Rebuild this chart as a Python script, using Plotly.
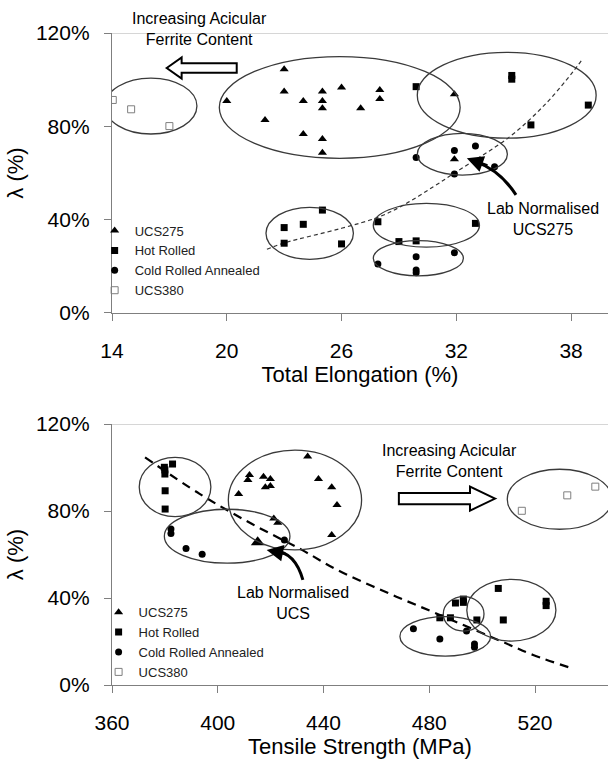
import plotly.graph_objects as go

# ---------------- data: top panel (Total Elongation %) ----------------
ucs275_el = [23.0, 20.0, 22.0, 23.0, 24.0, 24.0, 25.0, 25.0, 25.0, 25.0, 25.0, 26.0, 27.0, 28.0, 28.0, 31.9, 31.9]
ucs275_el_lam = [104.5, 90.9, 82.7, 94.9, 90.9, 76.7, 94.9, 90.9, 87.7, 74.6, 68.7, 96.6, 87.7, 95.6, 91.7, 93.7, 65.9]
hr_el = [29.9, 34.9, 34.9, 38.9, 35.9, 23.0, 24.0, 25.0, 23.0, 26.0, 27.9, 29.0, 29.9, 33.0]
hr_el_lam = [97.0, 100.2, 101.8, 89.1, 80.6, 36.6, 38.0, 44.1, 29.9, 29.6, 39.1, 30.6, 30.9, 38.4]
cra_el = [31.9, 33.0, 29.9, 34.0, 31.9, 27.9, 29.9, 29.9, 29.9, 31.9]
cra_el_lam = [69.6, 71.6, 66.6, 62.7, 59.6, 21.0, 24.1, 18.4, 17.2, 25.8]
ucs380_el = [14.04, 15.0, 17.0]
ucs380_el_lam = [91.3, 87.3, 80.1]
trend_el_x = [22.1, 23.0, 26.0, 28.0, 29.4, 30.8, 32.0, 34.8, 36.7, 38.1, 38.6]
trend_el_y = [27.3, 30.0, 36.3, 41.3, 47.0, 54.1, 60.5, 75.6, 89.9, 103.4, 108.9]

# ---------------- data: bottom panel (Tensile Strength MPa) ----------------
ucs275_ts = [407.9, 411.4, 412.0, 417.3, 418.0, 419.9, 419.9, 421.2, 422.7, 434.0, 438.1, 443.1, 445.1, 443.1]
ucs275_ts_lam = [87.8, 94.3, 96.6, 95.8, 90.9, 94.7, 91.5, 76.6, 74.6, 105.0, 94.7, 90.9, 82.8, 69.0]
lab_ts = [415.1]
lab_ts_lam = [65.6]
hr_ts = [379.8, 382.9, 380.0, 380.0, 380.1, 380.1, 484.0, 488.0, 489.9, 492.9, 492.9, 498.0, 506.1, 508.0, 524.2, 524.2]
hr_ts_lam = [100.1, 101.6, 98.9, 97.0, 89.3, 80.9, 30.9, 30.9, 37.7, 39.5, 38.0, 29.9, 44.4, 29.9, 38.5, 36.5]
cra_ts = [382.3, 382.3, 388.0, 394.1, 425.2, 474.0, 484.0, 494.1, 497.1, 497.1]
cra_ts_lam = [71.7, 69.7, 62.8, 60.1, 66.7, 25.9, 21.1, 24.8, 18.9, 17.3]
ucs380_ts = [515.0, 532.2, 542.8]
ucs380_ts_lam = [80.1, 87.2, 91.2]
trend_ts_x = [372.5, 393.0, 413.0, 432.0, 445.0, 464.0, 484.0, 506.7, 519.3, 534.7]
trend_ts_y = [104.7, 88.0, 74.0, 62.0, 53.0, 42.5, 32.2, 20.4, 13.8, 7.4]

y_ticks = [0, 40, 80, 120]
y_tick_labels = ["0%", "40%", "80%", "120%"]
el_ticks = [14, 20, 26, 32, 38]
ts_ticks = [360, 400, 440, 480, 520]

FONT = "Liberation Sans, Arial, sans-serif"
AX = "#7f7f7f"
BLK = "#000000"

fig = go.Figure()

def add_series(xa, ya, legend, x, y, name, symbol, size, color, line=None, showlegend=True):
    fig.add_trace(go.Scatter(
        x=x, y=y, mode="markers", name=name, xaxis=xa, yaxis=ya, legend=legend,
        showlegend=showlegend,
        marker=dict(symbol=symbol, size=size, color=color,
                    line=line if line else dict(width=0)),
    ))

# trend lines
fig.add_trace(go.Scatter(x=trend_el_x, y=trend_el_y, mode="lines", xaxis="x", yaxis="y",
                         line=dict(color="#333333", width=1.2, dash="4px,3px", shape="spline", smoothing=1.0),
                         showlegend=False, hoverinfo="skip"))
fig.add_trace(go.Scatter(x=trend_ts_x, y=trend_ts_y, mode="lines", xaxis="x2", yaxis="y2",
                         line=dict(color=BLK, width=2.2, dash="9px,6px", shape="spline", smoothing=1.0),
                         showlegend=False, hoverinfo="skip"))

# top panel series
add_series("x", "y", "legend", ucs275_el, ucs275_el_lam, "UCS275", "triangle-up", 8, BLK)
add_series("x", "y", "legend", hr_el, hr_el_lam, "Hot Rolled", "square", 7, BLK)
add_series("x", "y", "legend", cra_el, cra_el_lam, "Cold Rolled Annealed", "circle", 7, BLK)
add_series("x", "y", "legend", ucs380_el, ucs380_el_lam, "UCS380", "square-open", 7, "#7f7f7f",
           line=dict(width=1, color="#7f7f7f"))

# bottom panel series
add_series("x2", "y2", "legend2", ucs275_ts, ucs275_ts_lam, "UCS275", "triangle-up", 8, BLK)
add_series("x2", "y2", "legend2", hr_ts, hr_ts_lam, "Hot Rolled", "square", 7, BLK)
add_series("x2", "y2", "legend2", cra_ts, cra_ts_lam, "Cold Rolled Annealed", "circle", 7, BLK)
add_series("x2", "y2", "legend2", ucs380_ts, ucs380_ts_lam, "UCS380", "square-open", 7, "#7f7f7f",
           line=dict(width=1, color="#7f7f7f"))
add_series("x2", "y2", "legend2", lab_ts, lab_ts_lam, "Lab Normalised UCS", "triangle-up", 12, BLK,
           showlegend=False)

shapes = []
ELC = "#3a3a3a"
top_ell = [(13.63, 18.44, 76.7, 100.7), (19.61, 32.20, 66.3, 109.9), (29.96, 39.31, 74.9, 111.7),
           (29.96, 34.67, 59.1, 77.0), (22.05, 26.62, 23.0, 45.3), (27.66, 33.21, 28.2, 47.0),
           (27.66, 32.37, 15.9, 31.0)]
bot_ell = [(370.3, 397.4, 77.4, 104.7), (379.8, 427.3, 56.0, 80.8), (404.0, 454.4, 62.1, 108.0),
           (468.9, 503.2, 13.3, 31.4), (485.3, 500.7, 24.8, 40.6), (494.2, 527.9, 20.2, 48.6),
           (509.5, 549.1, 71.6, 99.2)]
for (x0, x1, y0, y1) in top_ell:
    shapes.append(dict(type="circle", xref="x", yref="y", x0=x0, x1=x1, y0=y0, y1=y1,
                       line=dict(color=ELC, width=1.3)))
for (x0, x1, y0, y1) in bot_ell:
    shapes.append(dict(type="circle", xref="x2", yref="y2", x0=x0, x1=x1, y0=y0, y1=y1,
                       line=dict(color=ELC, width=1.3)))

# top border lines at 120%
shapes.append(dict(type="line", xref="x domain", yref="y", x0=0, x1=1, y0=120, y1=120,
                   line=dict(color="#c8c8c8", width=1.5)))
shapes.append(dict(type="line", xref="x2 domain", yref="y2", x0=0, x1=1, y0=120, y1=120,
                   line=dict(color="#c8c8c8", width=1.5)))

# hollow arrows
shapes.append(dict(type="path", xref="x", yref="y",
                   path="M 16.86,105 L 17.64,109.5 L 17.64,107 L 20.52,107 L 20.52,103 L 17.64,103 L 17.64,100.5 Z",
                   line=dict(color=BLK, width=2), fillcolor="white"))
shapes.append(dict(type="path", xref="x2", yref="y2",
                   path="M 504.9,85.7 L 495.4,91.2 L 495.4,88.3 L 468.5,88.3 L 468.5,83.1 L 495.4,83.1 L 495.4,80.2 Z",
                   line=dict(color=BLK, width=2), fillcolor="white"))

# curved black arrows (bodies)
shapes.append(dict(type="path", xref="x", yref="y",
                   path="M 35.12,50.6 Q 34.29,61.3 33.0,64.9",
                   line=dict(color=BLK, width=3)))
shapes.append(dict(type="path", xref="x2", yref="y2",
                   path="M 432.2,48.3 Q 429.2,61.1 421.5,61.6",
                   line=dict(color=BLK, width=3)))

annotations = [
    dict(x=18.6, y=1.09, xref="x", yref="y domain", text="Increasing Acicular<br>Ferrite Content",
         showarrow=False, font=dict(size=16, color=BLK, family=FONT)),
    dict(x=487.8, y=103.1, xref="x2", yref="y2", text="Increasing Acicular<br>Ferrite Content",
         showarrow=False, font=dict(size=16, color=BLK, family=FONT)),
    dict(x=36.54, y=40.3, xref="x", yref="y", text="Lab Normalised<br>UCS275",
         showarrow=False, font=dict(size=16, color=BLK, family=FONT)),
    dict(x=428.5, y=37.8, xref="x2", yref="y2", text="Lab Normalised<br>UCS",
         showarrow=False, font=dict(size=16, color=BLK, family=FONT)),
    # arrow heads
    dict(x=32.55, y=66.3, xref="x", yref="y", text="", showarrow=True, ax=22, ay=8,
         arrowhead=2, arrowsize=1.1, arrowwidth=3, arrowcolor=BLK, standoff=0),
    dict(x=418.5, y=62.1, xref="x2", yref="y2", text="", showarrow=True, ax=20, ay=4,
         arrowhead=2, arrowsize=1.1, arrowwidth=3, arrowcolor=BLK, standoff=0),
]

tickfont = dict(size=21, color=BLK, family=FONT)
titlefont = dict(size=22, color=BLK, family=FONT)

def xaxis_cfg(rng, ticks, title, anchor):
    return dict(range=rng, tickvals=ticks, showgrid=False, zeroline=False, showline=True,
                linecolor=AX, linewidth=1.3, ticks="outside", ticklen=7, tickcolor=AX, tickwidth=1.3,
                tickfont=tickfont, title=dict(text=title, font=titlefont, standoff=4), anchor=anchor,
                ticklabelstandoff=12)

def yaxis_cfg(domain, anchor):
    return dict(range=[0, 120], tickvals=y_ticks, ticktext=y_tick_labels, domain=domain, showgrid=False,
                zeroline=False, showline=True, linecolor=AX, linewidth=1.3, ticks="outside",
                ticklen=7, tickcolor=AX, tickwidth=1.3, tickfont=tickfont,
                title=dict(text="λ (%)", font=titlefont, standoff=6), anchor=anchor,
                ticklabelstandoff=10)

fig.update_layout(
    width=608, height=763,
    margin=dict(l=112, r=0, t=33, b=78),
    paper_bgcolor="white", plot_bgcolor="white",
    font=dict(family=FONT, color=BLK),
    xaxis=xaxis_cfg([14, 39.93], el_ticks, "Total Elongation (%)", "y"),
    yaxis=yaxis_cfg([0.5706, 1.0], "x"),
    xaxis2=xaxis_cfg([360, 547.6], ts_ticks, "Tensile Strength (MPa)", "y2"),
    yaxis2=yaxis_cfg([0.0, 0.4003], "x2"),
    shapes=shapes,
    annotations=annotations,
    legend=dict(x=-0.035, y=0.72, xanchor="left", yanchor="top", bgcolor="rgba(0,0,0,0)",
                font=dict(size=13, color="#222222", family=FONT), tracegroupgap=0, itemwidth=30),
    legend2=dict(x=-0.027, y=0.1346, xanchor="left", yanchor="top", bgcolor="rgba(0,0,0,0)",
                 font=dict(size=13, color="#222222", family=FONT), tracegroupgap=0, itemwidth=30),
    showlegend=True,
)

fig.write_html("out.html")
